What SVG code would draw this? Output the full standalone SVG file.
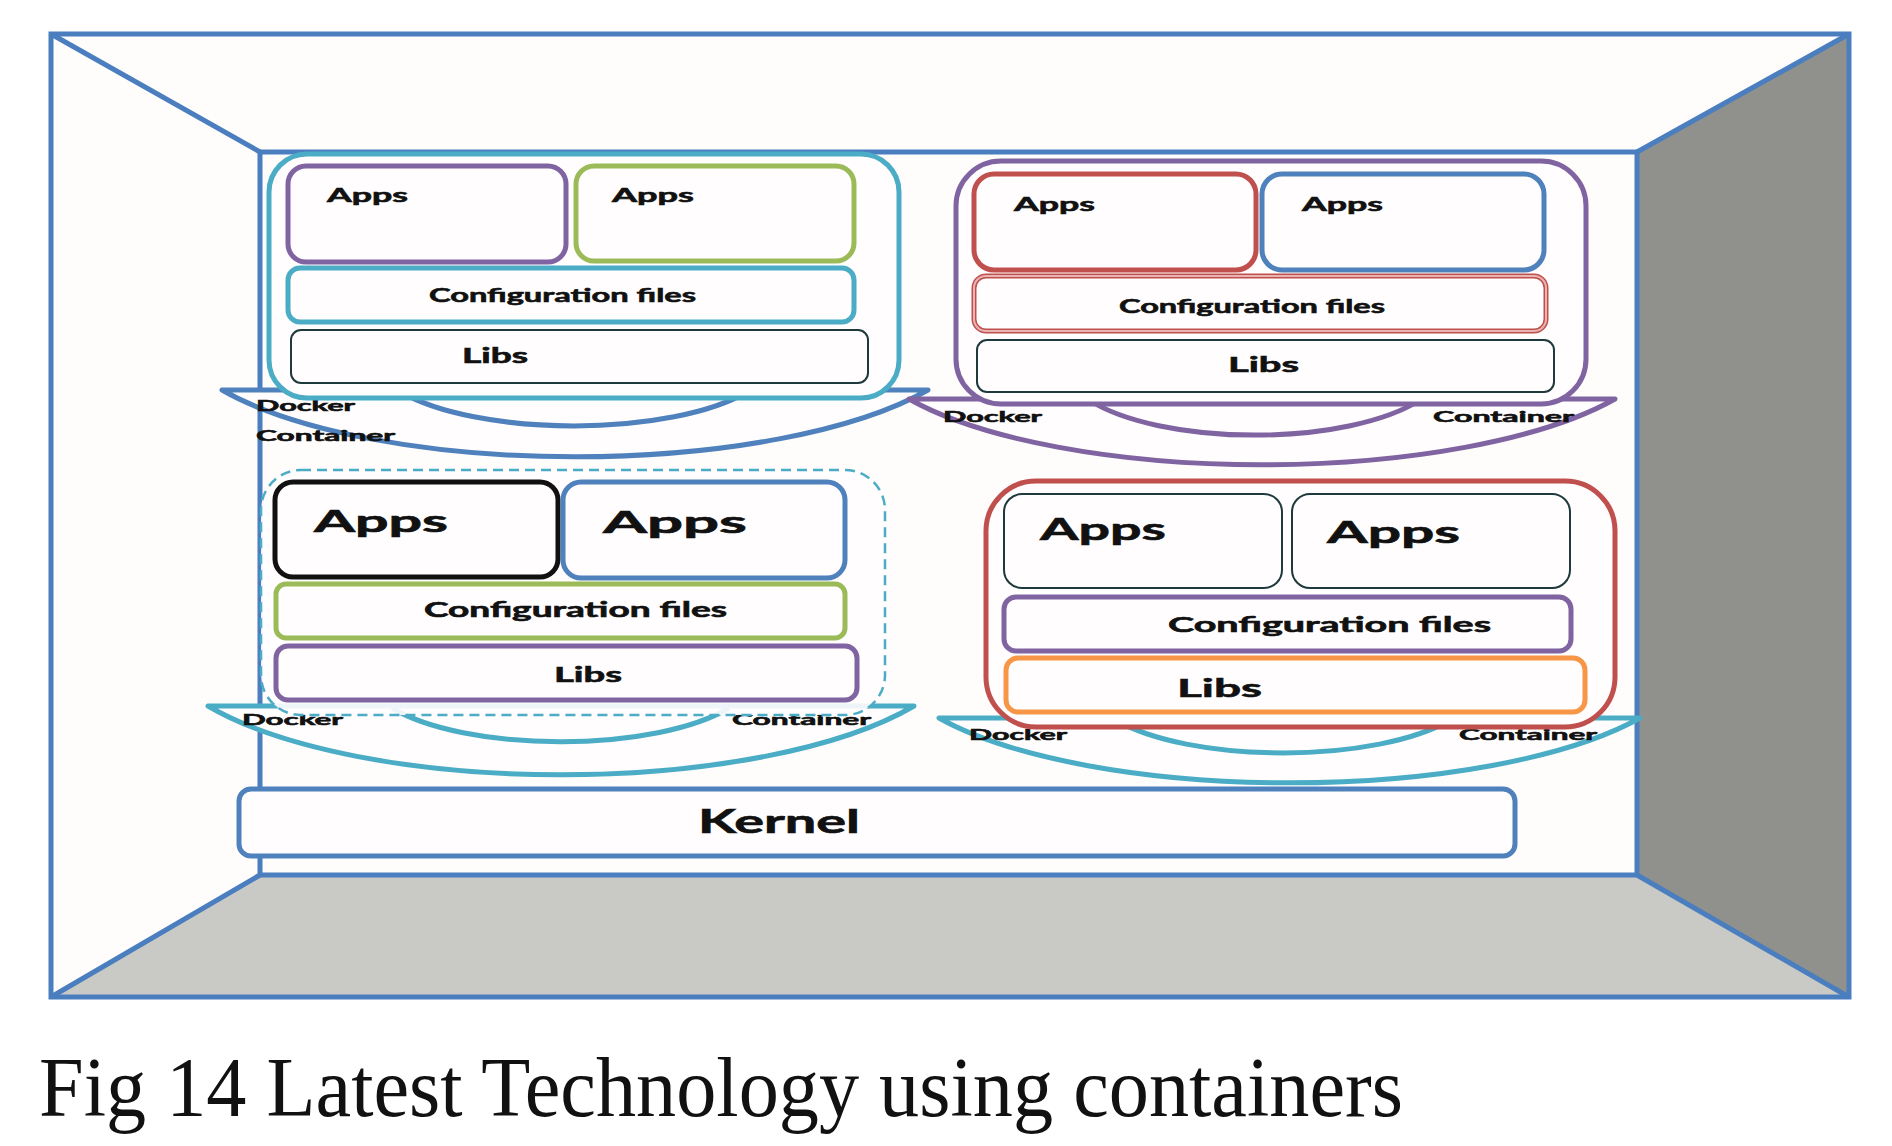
<svg xmlns="http://www.w3.org/2000/svg" width="1892" height="1146" viewBox="0 0 1892 1146">
<style>
.frame{stroke:#4a7ebf;stroke-width:5;stroke-linejoin:miter}
.box{fill:#fffdfd;stroke-width:5}
.thin{fill:#fffdfd;stroke:#1e3a3c;stroke-width:2}
.dock{fill:#fffdfd;stroke-width:5;stroke-linejoin:round}
.arc{fill:none;stroke-width:5}
.t{font-family:Lato,"Liberation Sans",sans-serif;font-weight:700;fill:#111;stroke:#111;stroke-width:0.6}
.cap{font-family:"Liberation Serif","Times New Roman",serif;fill:#111}
.cy{stroke:#4bacc6}.pu{stroke:#8064a2}.gr{stroke:#9bbb59}.rd{stroke:#c0504d}.bl{stroke:#4f81bd}.or{stroke:#f79646}.bk{stroke:#111}
</style>
<rect width="1892" height="1146" fill="#ffffff"/>
<g id="room">
<rect x="51" y="34" width="1798" height="963" fill="#fffcfc"/>
<polygon points="1637,152 1849,34 1849,997 1637,875" fill="#90918d"/>
<polygon points="260,875 1637,875 1849,997 51,997" fill="#c9cac6"/>
<rect x="51" y="34" width="1798" height="963" fill="none" class="frame"/>
<rect x="260" y="152" width="1377" height="723" fill="none" class="frame"/>
<g class="frame">
<line x1="51" y1="34" x2="260" y2="152"/>
<line x1="1849" y1="34" x2="1637" y2="152"/>
<line x1="51" y1="997" x2="260" y2="875"/>
<line x1="1849" y1="997" x2="1637" y2="875"/>
</g>
</g>
<g id="connectors"></g>
<g id="container-top-left">
<path class="dock bl" d="M222,390 H928 A406 132 0 0 1 222,390 Z"/>
<path class="arc bl" d="M401,392 A199 67 0 0 0 747,392"/>
<text class="t" x="256" y="411" font-size="16" textLength="99" lengthAdjust="spacingAndGlyphs">Docker</text>
<text class="t" x="256" y="441" font-size="16" textLength="139" lengthAdjust="spacingAndGlyphs">Container</text>
<rect class="box cy" x="269" y="154" width="630" height="244" rx="38"/>
<rect class="box pu" x="288" y="166" width="278" height="96" rx="18"/>
<rect class="box gr" x="576" y="166" width="278" height="95" rx="18"/>
<rect class="box cy" x="288" y="268" width="566" height="54" rx="12"/>
<rect class="thin" x="291" y="330" width="577" height="53" rx="10"/>
<text class="t" x="327" y="202" font-size="19" textLength="81" lengthAdjust="spacingAndGlyphs">Apps</text>
<text class="t" x="612" y="202" font-size="19" textLength="82" lengthAdjust="spacingAndGlyphs">Apps</text>
<text class="t" x="429" y="302" font-size="19" textLength="267" lengthAdjust="spacingAndGlyphs">Configuration files</text>
<text class="t" x="462" y="363" font-size="20" textLength="66" lengthAdjust="spacingAndGlyphs">Libs</text>
</g>
<g id="container-top-right">
<path class="dock pu" d="M909,399 H1615 A406 130 0 0 1 909,399 Z"/>
<path class="arc pu" d="M1089,400 A190 69 0 0 0 1420,400"/>
<text class="t" x="943" y="422" font-size="16" textLength="99" lengthAdjust="spacingAndGlyphs">Docker</text>
<text class="t" x="1433" y="422" font-size="16" textLength="141" lengthAdjust="spacingAndGlyphs">Container</text>
<rect class="box pu" x="956" y="161" width="630" height="243" rx="45"/>
<rect class="box rd" x="974" y="174" width="282" height="96" rx="20" stroke-width="6"/>
<rect class="box bl" x="1262" y="174" width="282" height="96" rx="20"/>
<rect class="box rd" x="974" y="276" width="572" height="55" rx="12" stroke-width="8"/>
<rect x="974" y="276" width="572" height="55" rx="12" fill="none" stroke="#e8b4b2" stroke-width="2"/>
<rect class="thin" x="977" y="340" width="577" height="52" rx="10"/>
<text class="t" x="1014" y="211" font-size="19" textLength="81" lengthAdjust="spacingAndGlyphs">Apps</text>
<text class="t" x="1302" y="211" font-size="19" textLength="81" lengthAdjust="spacingAndGlyphs">Apps</text>
<text class="t" x="1119" y="313" font-size="19" textLength="266" lengthAdjust="spacingAndGlyphs">Configuration files</text>
<text class="t" x="1228" y="372" font-size="21" textLength="71" lengthAdjust="spacingAndGlyphs">Libs</text>
</g>
<g id="container-bottom-left">
<path class="dock cy" d="M208,706 H914 A406 136 0 0 1 208,706 Z"/>
<path class="arc cy" d="M392,708 A194 67 0 0 0 729,708"/>
<text class="t" x="242" y="725" font-size="16" textLength="101" lengthAdjust="spacingAndGlyphs">Docker</text>
<text class="t" x="732" y="725" font-size="16" textLength="139" lengthAdjust="spacingAndGlyphs">Container</text>
<rect x="261" y="470" width="624" height="245" rx="40" fill="#fffdfd" fill-opacity="0.9" stroke="#4bacc6" stroke-width="2.5" stroke-dasharray="10 6"/>
<rect class="box bk" x="275" y="482" width="283" height="95" rx="18"/>
<rect class="box bl" x="563" y="482" width="282" height="96" rx="18"/>
<rect class="box gr" x="276" y="584" width="569" height="54" rx="10"/>
<rect class="box pu" x="276" y="646" width="581" height="54" rx="12"/>
<text class="t" x="314" y="532" font-size="30" textLength="134" lengthAdjust="spacingAndGlyphs">Apps</text>
<text class="t" x="603" y="533" font-size="31" textLength="144" lengthAdjust="spacingAndGlyphs">Apps</text>
<text class="t" x="424" y="617" font-size="20" textLength="303" lengthAdjust="spacingAndGlyphs">Configuration files</text>
<text class="t" x="554" y="682" font-size="21" textLength="68" lengthAdjust="spacingAndGlyphs">Libs</text>
</g>
<g id="container-bottom-right">
<path class="dock cy" d="M939,718 H1640 A403 128 0 0 1 939,718 Z"/>
<path class="arc cy" d="M1116,720 A192 65 0 0 0 1450,720"/>
<text class="t" x="969" y="740" font-size="16" textLength="98" lengthAdjust="spacingAndGlyphs">Docker</text>
<text class="t" x="1459" y="740" font-size="16" textLength="138" lengthAdjust="spacingAndGlyphs">Container</text>
<rect class="box rd" x="986" y="481" width="629" height="246" rx="50"/>
<rect class="thin" x="1004" y="494" width="278" height="94" rx="18"/>
<rect class="thin" x="1292" y="494" width="278" height="94" rx="18"/>
<rect class="box pu" x="1004" y="597" width="567" height="54" rx="12"/>
<rect class="box or" x="1006" y="658" width="579" height="54" rx="12"/>
<text class="t" x="1040" y="540" font-size="31" textLength="126" lengthAdjust="spacingAndGlyphs">Apps</text>
<text class="t" x="1327" y="543" font-size="31" textLength="133" lengthAdjust="spacingAndGlyphs">Apps</text>
<text class="t" x="1168" y="632" font-size="21" textLength="323" lengthAdjust="spacingAndGlyphs">Configuration files</text>
<text class="t" x="1177" y="697" font-size="25" textLength="85" lengthAdjust="spacingAndGlyphs">Libs</text>
</g>
<g id="kernel">
<rect class="box bl" x="239" y="789" width="1276" height="67" rx="12"/>
<text class="t" x="698" y="833" font-size="32" textLength="162" lengthAdjust="spacingAndGlyphs">Kernel</text>
</g>
<text class="cap" x="39" y="1116" font-size="85" textLength="1364" lengthAdjust="spacingAndGlyphs">Fig 14 Latest Technology using containers</text>
</svg>
